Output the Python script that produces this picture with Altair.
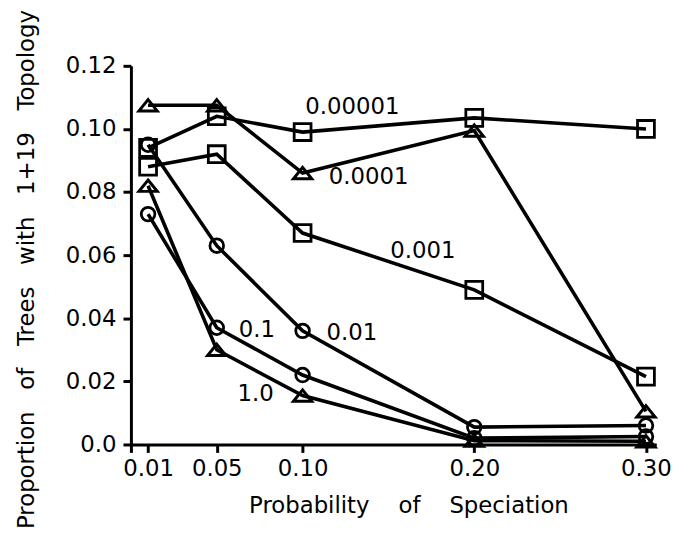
import altair as alt
import pandas as pd

# ---- data ----
x_vals = [0.01, 0.05, 0.10, 0.20, 0.30]
series_names = ["0.00001", "0.0001", "0.001", "0.01", "0.1", "1.0"]
series_shapes = ["square", "triangle", "square", "circle", "circle", "triangle"]
y_00001 = [0.094, 0.104, 0.099, 0.1035, 0.100]
y_0001 = [0.1075, 0.1075, 0.086, 0.0995, 0.0105]
y_001 = [0.088, 0.092, 0.067, 0.049, 0.0215]
y_01 = [0.095, 0.063, 0.036, 0.0055, 0.006]
y_1 = [0.073, 0.037, 0.022, 0.002, 0.0025]
y_10 = [0.082, 0.030, 0.0155, 0.0012, 0.001]
series_values = [y_00001, y_0001, y_001, y_01, y_1, y_10]

label_text = series_names
label_x = [0.129, 0.1385, 0.170, 0.1287, 0.0733, 0.0727]
label_y = [0.107, 0.0846, 0.0613, 0.0352, 0.0361, 0.016]

x_ticks = [0, 0.01, 0.05, 0.10, 0.20, 0.30]
y_ticks = [0.0, 0.02, 0.04, 0.06, 0.08, 0.10, 0.12]

rows = []
for name, shp, vals in zip(series_names, series_shapes, series_values):
    for i, (xv, yv) in enumerate(zip(x_vals, vals)):
        rows.append({"series": name, "shape": shp, "x": xv, "y": yv, "i": i})
df = pd.DataFrame(rows)
labels_df = pd.DataFrame({"text": label_text, "x": label_x, "y": label_y})

FONT = "DejaVu Sans"
NB = "\u00a0\u00a0\u00a0 "
NBY = "\u00a0\u00a0 "

x_enc = alt.X(
    "x:Q",
    scale=alt.Scale(domain=[0, 0.306], nice=False, zero=False),
    axis=alt.Axis(
        values=x_ticks,
        labelExpr="datum.value == 0 ? '' : format(datum.value, '.2f')",
        title=NB.join(["Probability", "of", "Speciation"]),
        titleX=280,
        titleY=62,
        titleAlign="center",
        titleBaseline="middle",
        labelPadding=5,
    ),
)
y_enc = alt.Y(
    "y:Q",
    scale=alt.Scale(domain=[0, 0.12], nice=False, zero=False),
    axis=alt.Axis(
        values=y_ticks,
        labelExpr="datum.value == 0 ? '0.0' : format(datum.value, '.2f')",
        title=NBY.join(["Proportion", "of", "Trees", "with", "1+19", "Topology"]),
        titleAngle=270,
        titleX=-105,
        titleY=205,
        titleAlign="center",
        titleBaseline="middle",
        labelPadding=7,
    ),
)

base = alt.Chart(df)

lines = base.mark_line(color="black", strokeWidth=3.6).encode(
    x=x_enc, y=y_enc, detail="series:N", order="i:Q"
)

squares = base.transform_filter(alt.datum.shape == "square").mark_point(
    shape="square", size=289, filled=False, stroke="black", strokeWidth=2.8, opacity=1
).encode(x="x:Q", y="y:Q")

circles = base.transform_filter(alt.datum.shape == "circle").mark_point(
    shape="circle", size=190, filled=False, stroke="black", strokeWidth=2.8, opacity=1
).encode(x="x:Q", y="y:Q")

triangles = base.transform_filter(alt.datum.shape == "triangle").mark_point(
    shape="M0,-0.62L1,0.62L-1,0.62Z", size=340, filled=False, stroke="black",
    strokeWidth=3, opacity=1
).encode(x="x:Q", y="y:Q")

texts = alt.Chart(labels_df).mark_text(
    font=FONT, fontSize=23, color="black", align="center", baseline="middle"
).encode(x="x:Q", y="y:Q", text="text:N")

chart = (
    alt.layer(lines, squares, circles, triangles, texts)
    .properties(
        width=530,
        height=382,
        autosize=alt.AutoSizeParams(type="none"),
        padding={"left": 124, "top": 56, "right": 30, "bottom": 88},
        background="white",
    )
    .configure_view(stroke=None)
    .configure_axis(
        grid=False,
        domainColor="black",
        domainWidth=3,
        tickColor="black",
        tickWidth=3,
        tickSize=8,
        labelFont=FONT,
        labelFontSize=23,
        labelColor="black",
        titleFont=FONT,
        titleFontSize=23,
        titleFontWeight="normal",
        titleColor="black",
    )
)

chart.save("out.html", embed_options={"renderer": "svg", "actions": False})
